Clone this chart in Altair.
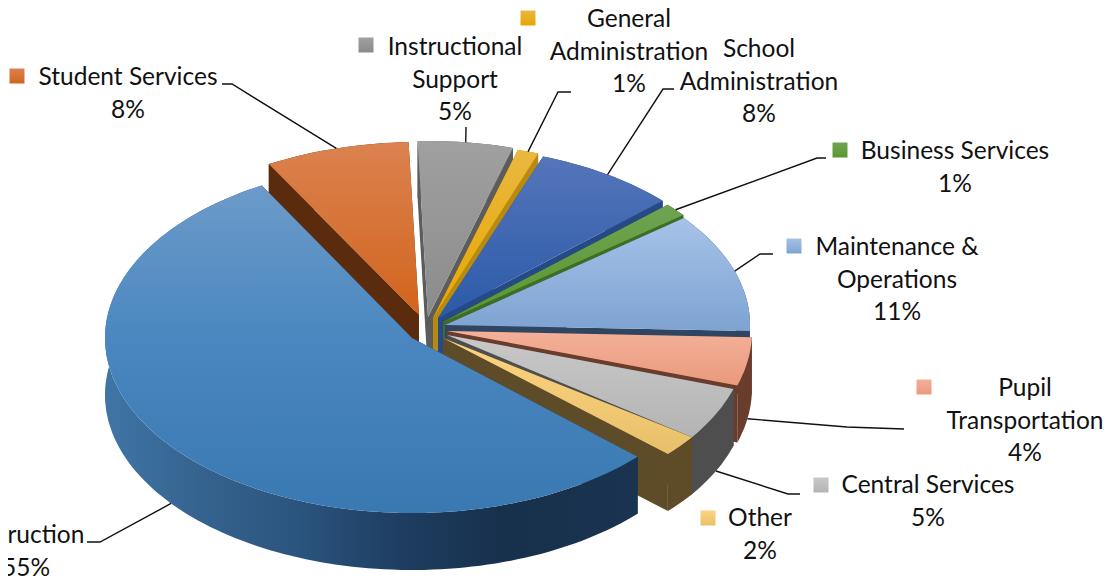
import math
import altair as alt
import pandas as pd

# ---- chart values (slice order follows the pie, clockwise from the lower right)
categories = ["Instruction", "Student Services", "Instructional Support", "General Administration",
              "School Administration", "Business Services", "Maintenance & Operations",
              "Pupil Transportation", "Central Services", "Other"]
values = [55.0, 7.6, 5.0, 1.1, 7.5, 1.25, 11.25, 4.4, 4.9, 2.0]
percent_labels = ["55%", "8%", "5%", "1%", "8%", "1%", "11%", "4%", "5%", "2%"]
label_lines = [["Instruction"], ["Student Services"], ["Instructional", "Support"], ["General", "Administration"],
               ["School", "Administration"], ["Business Services"], ["Maintenance &", "Operations"],
               ["Pupil", "Transportation"], ["Central Services"], ["Other"]]

# ---- colours: top face gradient (light, deep) and side wall
top_light = ["#6c9bc9", "#db8250", "#a0a0a0", "#eab840", "#5575ba", "#6fa352", "#a6c3e8", "#f4b09a", "#c8c8c8", "#fcd480"]
top_deep = ["#3a78b2", "#d2641c", "#8b8b8b", "#e6a700", "#2b5aa8", "#57982f", "#7ea3d2", "#e99a7c", "#b4b4b4", "#e9c06a"]
wall_col = ["#1a3350", "#5a2c0d", "#5c5c5c", "#b88a10", "#254a86", "#3f6d22", "#2e4661", "#6a3c2c", "#4e4e4e", "#5e4c28"]

# ---- layout constants of the exploded perspective pie (page pixels)
START_ANGLE = 132.7
DEPTH = 57
apex = [(412, 338), (419, 315), (428, 317), (433, 318), (438, 318), (443, 322), (445, 325), (447, 331), (447, 335), (443, 338)]
radii = [(307, 175), (307, 173), (307, 176), (307, 175), (307, 172), (307, 172), (305, 172), (305, 178), (301, 176), (306, 171)]
W, H = 1097, 569

def rim(k, t, dz=0):
    a = math.radians(t)
    return (apex[k][0] + radii[k][0] * math.sin(a), apex[k][1] - radii[k][1] * math.cos(a) + dz)

spans = []
cur = START_ANGLE
for v in values:
    spans.append((cur, cur + v * 3.6))
    cur += v * 3.6

def arc(k, dz=0):
    t1, t2 = spans[k]
    n = max(4, int((t2 - t1) / 1.5))
    return [rim(k, t1 + (t2 - t1) * j / n, dz) for j in range(n + 1)]

def grad(c1, c2):
    return alt.LinearGradient(gradient="linear", x1=0, y1=0, x2=0, y2=1,
                              stops=[alt.GradientStop(color=c1, offset=0), alt.GradientStop(color=c2, offset=1)])

X = alt.X("x:Q", scale=alt.Scale(domain=[8, 8 + W], nice=False, zero=False), axis=None)
Y = alt.Y("y:Q", scale=alt.Scale(domain=[8 + H, 8], nice=False, zero=False), axis=None)

def polygon(points, fill):
    df = pd.DataFrame([{"x": round(p[0], 1), "y": round(p[1], 1), "i": i} for i, p in enumerate(points + points[:1])])
    return alt.Chart(df).mark_line(fill=fill, stroke=None, strokeWidth=0, interpolate="linear").encode(
        x=X, y=Y, order=alt.Order("i:Q"))

layers = []
draw_order = [1, 2, 3, 4, 5, 6, 7, 8, 9, 0]
for k in draw_order:
    ax, ay = apex[k]
    top = arc(k)
    low = arc(k, DEPTH)
    # cut faces
    for e in (top[0], top[-1]):
        layers.append(polygon([(ax, ay), e, (e[0], e[1] + DEPTH), (ax, ay + DEPTH)], wall_col[k]))
    # outer wall and top face
    if k == 0:
        wall_fill = alt.LinearGradient(gradient="linear", x1=0, y1=0, x2=1, y2=0, stops=[
            alt.GradientStop(color="#3f75a6", offset=0),
            alt.GradientStop(color="#35638f", offset=0.18),
            alt.GradientStop(color="#2a547d", offset=0.37),
            alt.GradientStop(color="#1f3f63", offset=0.54),
            alt.GradientStop(color="#17304c", offset=0.75),
            alt.GradientStop(color="#1a3350", offset=1)])
        top_fill = alt.LinearGradient(gradient="linear", x1=0, y1=0, x2=0, y2=1, stops=[
            alt.GradientStop(color=top_light[0], offset=0),
            alt.GradientStop(color="#4a87c0", offset=0.47),
            alt.GradientStop(color=top_deep[0], offset=1)])
    else:
        wall_fill = wall_col[k]
        top_fill = grad(top_light[k], top_deep[k])
    layers.append(polygon(top + low[::-1], wall_fill))
    layers.append(polygon([(ax, ay)] + top, top_fill))

# ---- leader lines: start at the rim in the middle of each slice, then elbow towards the label
leader_elbows = {
    0: [(100, 542), (87, 542)], 1: [(232, 84), (222, 84)], 2: [(466, 127)], 3: [(558, 92), (571, 92)],
    4: [(663, 89), (674, 89)], 5: [(817, 158), (826, 158)], 6: [(760, 254), (773, 254)],
    7: [(847, 427), (904, 429)], 8: [(788, 494), (800, 494)]}
wall_hit = {0: DEPTH, 7: DEPTH, 8: DEPTH}
for k, elbow in leader_elbows.items():
    mid = sum(spans[k]) / 2
    pts = [rim(k, mid, wall_hit.get(k, 0))] + elbow
    df = pd.DataFrame([{"x": p[0], "y": p[1], "i": i} for i, p in enumerate(pts)])
    layers.append(alt.Chart(df).mark_line(stroke="#111111", strokeWidth=1.4).encode(x=X, y=Y, order=alt.Order("i:Q")))

# ---- labels: first line centre, line pitch, legend key position
label_pos = [(26, 536), (128, 78), (455, 48), (629, 20), (759, 50), (955, 152), (897, 248), (1025, 389), (928, 486), (760, 519)]
key_pos = [None, (17, 76), (366, 45), (528, 18), None, (840, 150), (794, 246), (924, 387), (821, 485), (708, 518)]
PITCH = 32.5
rows = []
for k, lines in enumerate(label_lines):
    lx, ly = label_pos[k]
    for j, txt in enumerate(lines + [percent_labels[k]]):
        rows.append({"x": lx, "y": ly + j * PITCH, "t": txt})
layers.append(alt.Chart(pd.DataFrame(rows)).mark_text(
    font="Lato", fontSize=24.5, color="#111111", align="center", baseline="middle").encode(x=X, y=Y, text="t:N"))

for k, p in enumerate(key_pos):
    if p is None:
        continue
    df = pd.DataFrame([{"x": p[0], "y": p[1]}])
    layers.append(alt.Chart(df).mark_square(size=225, opacity=1, fill=grad(top_light[k], top_deep[k]), stroke=None).encode(x=X, y=Y))

chart = alt.layer(*layers).properties(
    width=W, height=H, padding=0, autosize=alt.AutoSizeParams(type="none")
).configure_view(stroke=None)

chart.save("out.html", embed_options={"renderer": "svg", "actions": False})
